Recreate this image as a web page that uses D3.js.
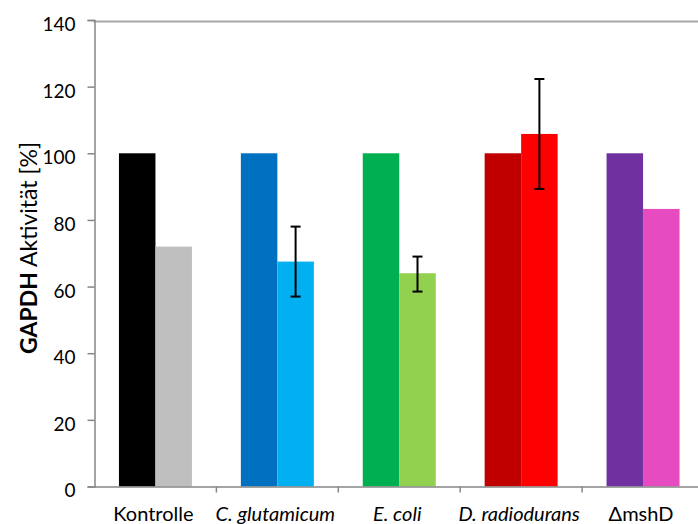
<!DOCTYPE html>
<html>
<head>
<meta charset="utf-8">
<script src="https://cdn.jsdelivr.net/npm/d3@7"></script>
<style>
  html, body { margin: 0; padding: 0; background: #fff; }
  svg { display: block; }
  text { font-family: Lato, "Open Sans", sans-serif; fill: #000; }
</style>
</head>
<body>
<svg id="chart" width="698" height="524"></svg>
<script>
// Bacterial strains along the x axis
const categories = ["Kontrolle", "C. glutamicum", "E. coli", "D. radiodurans", "\u0394mshD"];
const italicLabels = [false, true, true, true, false];
// Reference activity (left bar of each pair) and treated activity (right bar)
const referenceValues = [100, 100, 100, 100, 100];
const treatedValues = [72, 67.5, 64, 105.8, 83.3];
// Error range of the treated bars (null = no error bar)
const errorLow = [null, 57, 58.5, 89.3, null];
const errorHigh = [null, 78, 69, 122.3, null];
const referenceColors = ["#000000", "#0070c0", "#00b050", "#c00000", "#7030a0"];
const treatedColors = ["#bfbfbf", "#00b0f0", "#92d050", "#ff0000", "#e64cc0"];
const yTicks = [0, 20, 40, 60, 80, 100, 120, 140];

const svg = d3.select("#chart");
const plotLeft = 94.5, plotRight = 704, plotTop = 20, plotBottom = 486.5;

const x = d3.scaleBand().domain(categories).range([plotLeft, plotRight]).paddingInner(0).paddingOuter(0);
const y = d3.scaleLinear().domain([0, 140]).range([plotBottom, plotTop]);
const barW = 36.5;

// Top frame line
svg.append("line")
  .attr("x1", plotLeft - 1).attr("x2", 698)
  .attr("y1", plotTop + 1.5).attr("y2", plotTop + 1.5)
  .attr("stroke", "#a6a6a6").attr("stroke-width", 2);

// Bars
const g = svg.append("g");
categories.forEach((c, i) => {
  const cx = x(c) + x.bandwidth() / 2;
  g.append("rect")
    .attr("x", cx - barW).attr("width", barW)
    .attr("y", y(referenceValues[i])).attr("height", y(0) - y(referenceValues[i]))
    .attr("fill", referenceColors[i]);
  g.append("rect")
    .attr("x", cx).attr("width", barW)
    .attr("y", y(treatedValues[i])).attr("height", y(0) - y(treatedValues[i]))
    .attr("fill", treatedColors[i]);
  if (errorLow[i] != null) {
    const ex = cx + barW / 2;
    g.append("line").attr("x1", ex).attr("x2", ex)
      .attr("y1", y(errorLow[i])).attr("y2", y(errorHigh[i]))
      .attr("stroke", "#000").attr("stroke-width", 2);
    [errorLow[i], errorHigh[i]].forEach(v => {
      g.append("line").attr("x1", ex - 5).attr("x2", ex + 5)
        .attr("y1", y(v)).attr("y2", y(v))
        .attr("stroke", "#000").attr("stroke-width", 2);
    });
  }
});

// Y axis
const yAxis = d3.axisLeft(y).tickValues(yTicks).tickSize(7).tickPadding(12);
const ya = svg.append("g").attr("transform", `translate(${plotLeft},0)`).call(yAxis);
ya.select(".domain").attr("stroke", "#868686").attr("stroke-width", 1.5);
ya.selectAll(".tick line").attr("stroke", "#868686").attr("stroke-width", 1.5);
ya.selectAll(".tick text")
  .style("font-size", "19px").style("font-family", "Lato, sans-serif")
  .attr("fill", "#000").attr("dy", "0.55em");

// X axis
const xAxis = d3.axisBottom(x).tickSize(0).tickFormat("");
const xa = svg.append("g").attr("transform", `translate(0,${plotBottom})`).call(xAxis);
xa.select(".domain").attr("stroke", "#868686").attr("stroke-width", 1.5);
xa.selectAll(".tick").remove();
// Category separators
categories.slice(1).forEach(c => {
  svg.append("line").attr("x1", x(c)).attr("x2", x(c))
    .attr("y1", plotBottom).attr("y2", plotBottom + 6)
    .attr("stroke", "#868686").attr("stroke-width", 1.5);
});
// Category labels
categories.forEach((c, i) => {
  svg.append("text")
    .attr("x", x(c) + x.bandwidth() / 2 - 2)
    .attr("y", 521)
    .attr("text-anchor", "middle")
    .style("font-size", "20px")
    .style("font-style", italicLabels[i] ? "italic" : "normal")
    .text(c);
});

// Y axis title
const yt = svg.append("text")
  .attr("transform", "translate(37,248) rotate(-90)")
  .attr("text-anchor", "middle")
  .style("font-size", "23px");
yt.append("tspan").style("font-weight", "bold").text("GAPDH");
yt.append("tspan").text(" Aktivität [%]");
</script>
</body>
</html>
